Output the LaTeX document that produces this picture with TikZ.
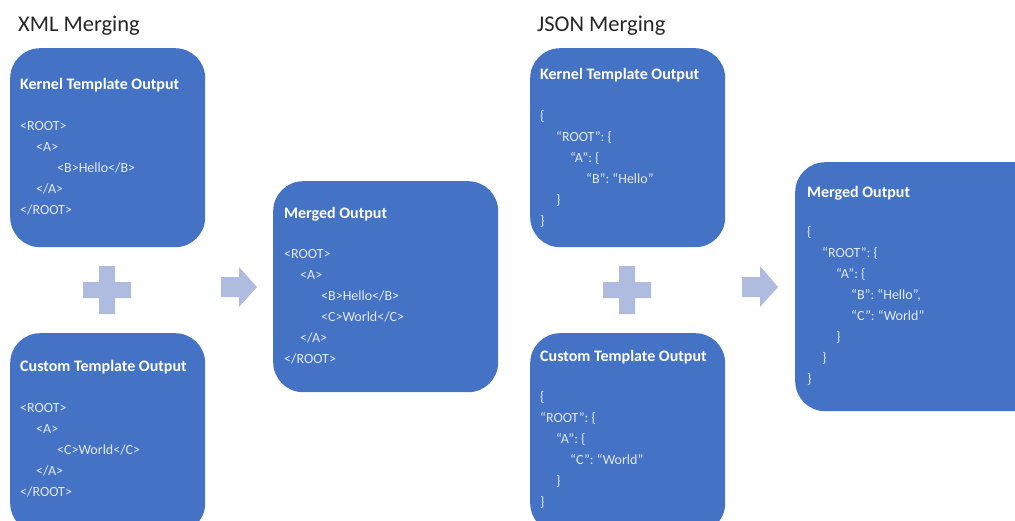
\documentclass[tikz,border=0pt]{standalone}
\usepackage{fontspec}
\setmainfont{Carlito}
\definecolor{boxblue}{HTML}{4472C4}
\definecolor{symb}{HTML}{B0BCDF}
\definecolor{bodytxt}{HTML}{E2E8F5}
\tikzset{
  card/.style={fill=boxblue, draw=none, rounded corners=30pt, anchor=north west, inner sep=0pt},
  head/.style={anchor=base west, text=white, font=\fontsize{16}{19}\selectfont\bfseries, inner sep=0pt},
  code/.style={anchor=base west, text=bodytxt, font=\fontsize{14}{17}\selectfont, inner sep=0pt},
  ttl/.style={anchor=base west, text=black!85, font=\fontsize{22.5}{26}\selectfont, inner sep=0pt},
  symbol/.style={fill=symb, draw=none}
}
\begin{document}
\begin{tikzpicture}[x=1pt,y=-1pt]
\useasboundingbox (0,0) rectangle (1015,520);
\clip (0,0) rectangle (1015,520);

% titles
\node[ttl] (t1) at (18,31) {XML Merging};
\node[ttl] (t2) at (537,31) {JSON Merging};

% boxes
\node[card, minimum width=195pt, minimum height=199pt] (xk) at (10,48) {};
\node[card, minimum width=195pt, minimum height=200pt] (xc) at (10,333) {};
\node[card, minimum width=225pt, minimum height=211pt] (xm) at (273,181) {};
\node[card, minimum width=195pt, minimum height=199pt] (jk) at (530,48) {};
\node[card, minimum width=195pt, minimum height=200pt] (jc) at (530,333) {};
\node[card, minimum width=250pt, minimum height=249pt] (jm) at (795,162) {};

% headings
\node[head] (xkh) at (20,89) {Kernel Template Output};
\node[head] (xch) at (20,371) {Custom Template Output};
\node[head] (xmh) at (284,218) {Merged Output};
\node[head] (jkh) at (540,79) {Kernel Template Output};
\node[head] (jch) at (540,361) {Custom Template Output};
\node[head] (jmh) at (807,197) {Merged Output};

% XML kernel body
\foreach \dx/\t [count=\i from 0] in {0/{<ROOT>},16/{<A>},37/{<B>Hello</B>},16/{</A>},0/{</ROOT>}}
  \node[code] (xkb\i) at (20+\dx,130+21*\i) {\t};
% XML custom body
\foreach \dx/\t [count=\i from 0] in {0/{<ROOT>},16/{<A>},37/{<C>World</C>},16/{</A>},0/{</ROOT>}}
  \node[code] (xcb\i) at (20+\dx,412+21*\i) {\t};
% XML merged body
\foreach \dx/\t [count=\i from 0] in {0/{<ROOT>},16/{<A>},37/{<B>Hello</B>},37/{<C>World</C>},16/{</A>},0/{</ROOT>}}
  \node[code] (xmb\i) at (284+\dx,258+21*\i) {\t};
% JSON kernel body
\foreach \dx/\t [count=\i from 0] in {0/{\{},16/{“ROOT”: \{},30/{“A”: \{},46/{“B”: “Hello”},16/{\}},0/{\}}}
  \node[code] (jkb\i) at (540+\dx,120+21*\i) {\t};
% JSON custom body
\foreach \dx/\t [count=\i from 0] in {0/{\{},0/{“ROOT”: \{},16/{“A”: \{},30/{“C”: “World”},16/{\}},0/{\}}}
  \node[code] (jcb\i) at (540+\dx,401+21*\i) {\t};
% JSON merged body
\foreach \dx/\t [count=\i from 0] in {0/{\{},15/{“ROOT”: \{},29/{“A”: \{},44/{“B”: “Hello”,},44/{“C”: “World”},29/{\}},15/{\}},0/{\}}}
  \node[code] (jmb\i) at (807+\dx,236+21.1*\i) {\t};

% plus signs
\fill[symbol] (99,266) -- (115,266) -- (115,282) -- (131,282) -- (131,298) -- (115,298) -- (115,314)
  -- (99,314) -- (99,298) -- (83,298) -- (83,282) -- (99,282) -- cycle;
\fill[symbol] (619,266) -- (635,266) -- (635,282) -- (651,282) -- (651,298) -- (635,298) -- (635,314)
  -- (619,314) -- (619,298) -- (603,298) -- (603,282) -- (619,282) -- cycle;

% arrows
\fill[symbol] (221,277) -- (239,277) -- (239,267) -- (257,287) -- (239,307) -- (239,297) -- (221,297) -- cycle;
\fill[symbol] (742,277) -- (760,277) -- (760,266) -- (778,287) -- (760,307) -- (760,297) -- (742,297) -- cycle;
\end{tikzpicture}
\end{document}
